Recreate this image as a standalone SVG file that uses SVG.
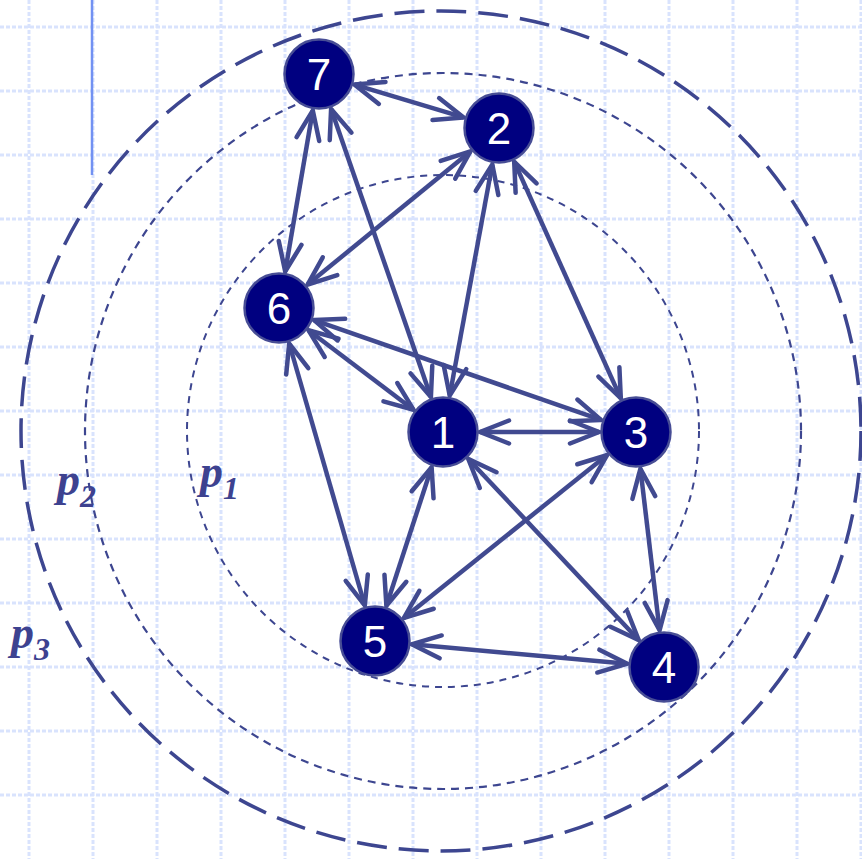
<svg xmlns="http://www.w3.org/2000/svg" width="862" height="859" viewBox="0 0 862 859">
<defs>
<style>
.grid line{stroke:#d9e3fd;stroke-width:3;stroke-dasharray:4 2}
.ring{fill:none;stroke:#3d4690}
.edge{stroke:#414a90;stroke-width:4.5;fill:none;marker-start:url(#ah);marker-end:url(#ah)}
.node circle{fill:#000080;stroke:#474d95;stroke-width:2.5}
.node text{fill:#ffffff;font-family:"Liberation Sans",Arial,sans-serif;font-size:44px;text-anchor:middle}
.lbl{fill:#3d4290;font-family:"Liberation Serif","Times New Roman",serif;font-style:italic;font-weight:bold;font-size:46px}
.sub{font-size:32px}
</style>
<marker id="ah" markerUnits="userSpaceOnUse" viewBox="-34 -16 40 32" refX="0" refY="0" markerWidth="40" markerHeight="32" orient="auto-start-reverse">
<path d="M-29,-11.5 L0,0 L-29,11.5" fill="none" stroke="#414a90" stroke-width="4.5" stroke-linecap="round" stroke-linejoin="miter"/>
</marker>
</defs>
<rect width="862" height="859" fill="#ffffff"/>
<g class="grid">
<line x1="29" y1="0" x2="29" y2="859"/><line x1="93" y1="0" x2="93" y2="859"/><line x1="157" y1="0" x2="157" y2="859"/><line x1="221" y1="0" x2="221" y2="859"/><line x1="285" y1="0" x2="285" y2="859"/><line x1="349" y1="0" x2="349" y2="859"/><line x1="413" y1="0" x2="413" y2="859"/><line x1="477" y1="0" x2="477" y2="859"/><line x1="541" y1="0" x2="541" y2="859"/><line x1="605" y1="0" x2="605" y2="859"/><line x1="669" y1="0" x2="669" y2="859"/><line x1="733" y1="0" x2="733" y2="859"/><line x1="797" y1="0" x2="797" y2="859"/><line x1="861" y1="0" x2="861" y2="859"/>
<line x1="0" y1="27" x2="862" y2="27"/><line x1="0" y1="91" x2="862" y2="91"/><line x1="0" y1="155" x2="862" y2="155"/><line x1="0" y1="219" x2="862" y2="219"/><line x1="0" y1="283" x2="862" y2="283"/><line x1="0" y1="347" x2="862" y2="347"/><line x1="0" y1="411" x2="862" y2="411"/><line x1="0" y1="475" x2="862" y2="475"/><line x1="0" y1="539" x2="862" y2="539"/><line x1="0" y1="603" x2="862" y2="603"/><line x1="0" y1="667" x2="862" y2="667"/><line x1="0" y1="731" x2="862" y2="731"/><line x1="0" y1="795" x2="862" y2="795"/>
</g>
<line x1="92" y1="0" x2="92" y2="175" stroke="#7291f2" stroke-width="2.5"/>
<g id="rings">
<circle class="ring" cx="443" cy="431" r="256" stroke-width="2" stroke-dasharray="7 6"/>
<circle class="ring" cx="443" cy="431" r="358" stroke-width="2.2" stroke-dasharray="8 6"/>
<circle class="ring" cx="441" cy="431" r="420" stroke-width="3.5" stroke-dasharray="30 12"/>
</g>
<g id="labels">
<text class="lbl" x="200" y="487">p<tspan class="sub" dy="12">1</tspan></text>
<text class="lbl" x="57" y="495">p<tspan class="sub" dy="12">2</tspan></text>
<text class="lbl" x="11" y="648">p<tspan class="sub" dy="12">3</tspan></text>
</g>
<g id="connectors">
<line class="edge" x1="354.4" y1="84.6" x2="463.6" y2="117.4"/>
<line class="edge" x1="312.8" y1="110.5" x2="285.2" y2="271.5"/>
<line class="edge" x1="331.1" y1="109" x2="430.9" y2="397"/>
<line class="edge" x1="492.3" y1="164.4" x2="449.7" y2="395.6"/>
<line class="edge" x1="470.4" y1="151.4" x2="307.6" y2="284.6"/>
<line class="edge" x1="514.2" y1="161.7" x2="620.8" y2="398.3"/>
<line class="edge" x1="314" y1="320.1" x2="601" y2="419.9"/>
<line class="edge" x1="308.5" y1="330.3" x2="413.5" y2="409.7"/>
<line class="edge" x1="289.2" y1="343.5" x2="364.8" y2="605.5"/>
<line class="edge" x1="480" y1="432" x2="599" y2="432"/>
<line class="edge" x1="431.6" y1="467.2" x2="386.4" y2="605.8"/>
<line class="edge" x1="468.3" y1="459" x2="638.7" y2="640"/>
<line class="edge" x1="607.1" y1="455.1" x2="403.9" y2="617.9"/>
<line class="edge" x1="640.4" y1="468.7" x2="659.6" y2="630.3"/>
<line class="edge" x1="411.8" y1="644.3" x2="627.2" y2="663.7"/>
</g>
<g id="n7" class="node"><circle cx="319" cy="74" r="34.5"/><text x="319" y="90">7</text></g>
<g id="n2" class="node"><circle cx="499" cy="128" r="34.5"/><text x="499" y="144">2</text></g>
<g id="n6" class="node"><circle cx="279" cy="308" r="34.5"/><text x="279" y="324">6</text></g>
<g id="n1" class="node"><circle cx="443" cy="432" r="34.5"/><text x="443" y="448">1</text></g>
<g id="n3" class="node"><circle cx="636" cy="432" r="34.5"/><text x="636" y="448">3</text></g>
<g id="n5" class="node"><circle cx="375" cy="641" r="34.5"/><text x="375" y="657">5</text></g>
<g id="n4" class="node"><circle cx="664" cy="667" r="34.5"/><text x="664" y="683">4</text></g>
</svg>
